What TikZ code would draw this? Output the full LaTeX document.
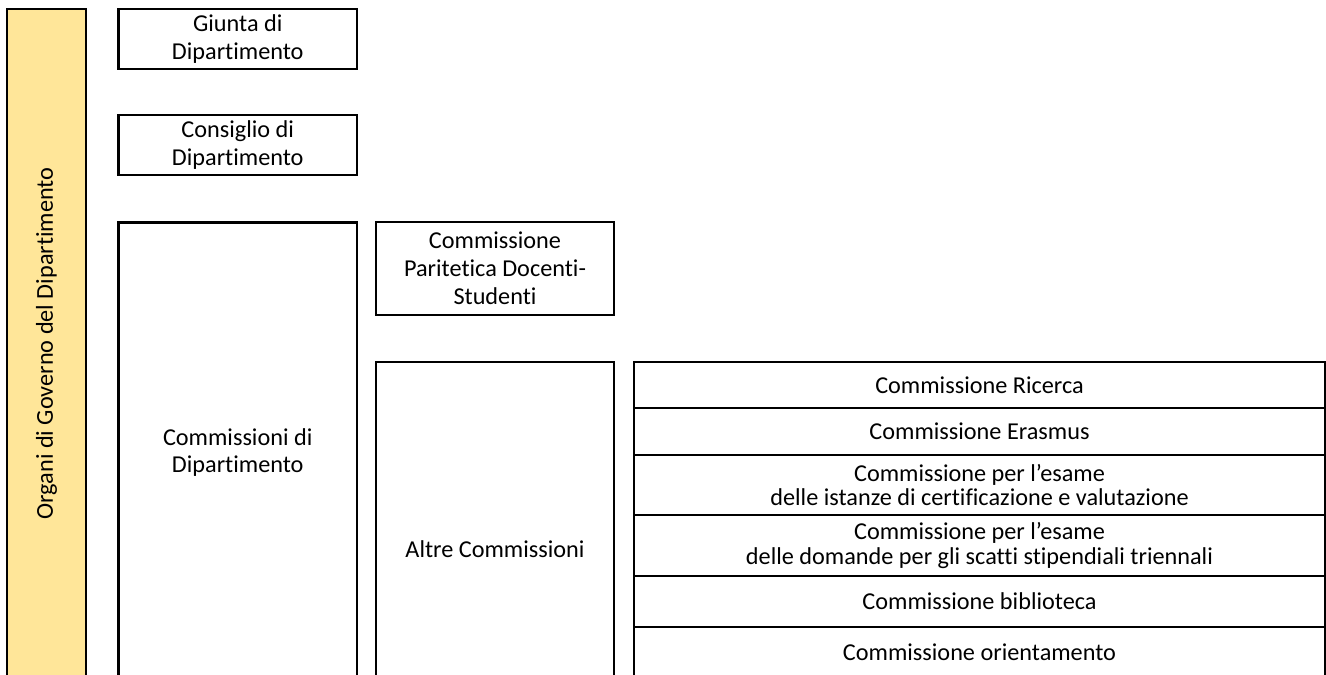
\documentclass[tikz,border=0pt]{standalone}
\usepackage{fontspec}
\setmainfont{Carlito}[Ligatures=NoCommon]
\usepackage{tikz}
\usetikzlibrary{positioning}
\definecolor{organi}{HTML}{FFE699}
\tikzset{
  every picture/.style={x=0.02cm, y=-0.02cm},
  box/.style={draw, line width=1.3pt, inner sep=0pt, outer sep=0pt, align=center,
    font=\fontsize{13.8}{15.8}\selectfont},
  leftbox/.style={box, minimum width=4.77cm},
  row/.style={box, minimum width=13.82cm,
    font=\fontsize{13.8}{13.9}\selectfont}
}

\begin{document}
\begin{tikzpicture}
    \useasboundingbox (0,0) rectangle (1326,675);
    \clip (0,0) rectangle (1326,675);
    % organi
    \node[box, fill=organi, rotate=90, minimum width=13.38cm, minimum height=1.58cm]
      (organi) at (46.5,343.5) {Organi di Governo del Dipartimento};
    % colonna sinistra
    \node[leftbox, minimum height=1.2cm] (giunta) at (237.75,39) {Giunta di\\Dipartimento};
    \node[leftbox, minimum height=1.2cm] (consiglio) at (237.75,145) {Consiglio di\\Dipartimento};
    \node[leftbox, minimum height=9.2cm] (commdip) at (237.75,452.5) {Commissioni di\\Dipartimento};
    % colonna centrale
    \node[leftbox, minimum width=4.76cm, minimum height=1.86cm] (paritetica) at (495,268.5)
      {Commissione\\Paritetica Docenti-\\Studenti};
    \node[leftbox, minimum width=4.76cm, minimum height=7.48cm] (altre) at (495,549) {Altre Commissioni};
    % altre commissioni
    \node[row, minimum height=0.92cm, anchor=north] (ricerca) at (979.5,362) {Commissione Ricerca};
    \node[row, minimum height=0.94cm, below=0pt of ricerca] (erasmus) {Commissione Erasmus};
    \node[row, minimum height=1.2cm, below=0pt of erasmus] (istanze)
      {Commissione per l’esame\\delle istanze di certificazione e valutazione};
    \node[row, minimum height=1.22cm, below=0pt of istanze] (scatti)
      {Commissione per l’esame\\delle domande per gli scatti stipendiali triennali};
    \node[row, minimum height=1.02cm, below=0pt of scatti] (biblioteca) {Commissione biblioteca};
    \node[row, minimum height=1.0cm, below=0pt of biblioteca] (orientamento) {Commissione orientamento};
\end{tikzpicture}
\end{document}
